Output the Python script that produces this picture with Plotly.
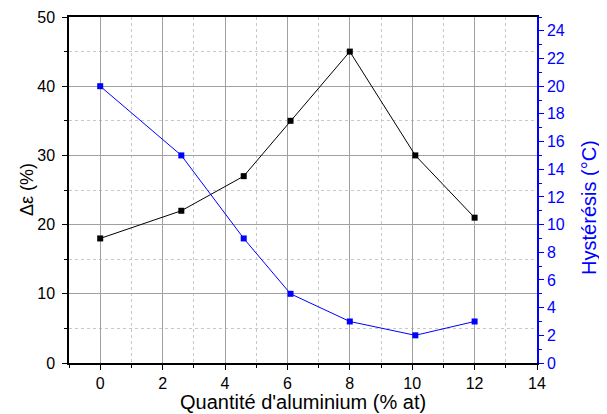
import plotly.graph_objects as go

x_al = [0, 2.6, 4.6, 6.1, 8, 10.1, 12]
delta_eps = [18, 22, 27, 35, 45, 30, 21]
hysteresis = [20, 15, 9, 5, 3, 2, 3]

FONT = "Liberation Sans, Arial, sans-serif"
BLUE = "#0000ff"

fig = go.Figure()
fig.add_trace(go.Scatter(x=x_al, y=delta_eps, mode="lines+markers",
                         line=dict(color="black", width=1),
                         marker=dict(symbol="square", size=6, color="black"),
                         showlegend=False, yaxis="y"))
fig.add_trace(go.Scatter(x=x_al, y=hysteresis, mode="lines+markers",
                         line=dict(color=BLUE, width=1),
                         marker=dict(symbol="square", size=6, color=BLUE),
                         showlegend=False, yaxis="y2"))

fig.update_layout(
    width=599, height=406,
    margin=dict(l=61, r=70, t=9, b=51),
    paper_bgcolor="white", plot_bgcolor="white",
    font=dict(family=FONT, size=16, color="black"),
    xaxis=dict(
        range=[-1, 14], tick0=0, dtick=2, automargin=False,
        showline=True, linecolor="black", linewidth=1.5, mirror=True,
        ticks="outside", ticklen=5, tickwidth=1, tickcolor="black",
        showgrid=True, gridcolor="#a0a0a0", gridwidth=1,
        zeroline=False,
        minor=dict(dtick=1, ticks="outside", ticklen=3, tickcolor="black",
                   showgrid=True, gridcolor="#c8c8c8", griddash="dot"),
        tickfont=dict(size=16),
    ),
    yaxis=dict(
        range=[0, 50], tick0=0, dtick=10, automargin=False,
        showline=True, linecolor="black", linewidth=1.5,
        ticks="outside", ticklen=5, tickwidth=1, tickcolor="black",
        ticklabelstandoff=4,
        showgrid=True, gridcolor="#a0a0a0", gridwidth=1,
        zeroline=False,
        minor=dict(dtick=5, ticks="outside", ticklen=3, tickcolor="black",
                   showgrid=True, gridcolor="#c8c8c8", griddash="dot"),
        tickfont=dict(size=16),
    ),
    yaxis2=dict(
        range=[0, 25], tick0=0, dtick=2, automargin=False,
        overlaying="y", side="right",
        showline=True, linecolor=BLUE, linewidth=1.5,
        ticks="outside", ticklen=5, tickwidth=1, tickcolor=BLUE,
        showgrid=False, zeroline=False,
        minor=dict(dtick=1, ticks="outside", ticklen=3, tickcolor=BLUE),
        tickfont=dict(size=16, color=BLUE),
    ),
    annotations=[
        dict(text="Quantité d'aluminium (% at)", xref="paper", yref="paper",
             x=0.5, y=-0.113, xanchor="center", yanchor="middle",
             showarrow=False, font=dict(size=20, color="black")),
        dict(text="Δε (%)", xref="paper", yref="paper",
             x=-0.0897, y=0.5, xanchor="center", yanchor="middle", textangle=-90,
             showarrow=False, font=dict(size=18, color="black")),
        dict(text="Hystérésis (°C)", xref="paper", yref="paper",
             x=1.111, y=0.451, xanchor="center", yanchor="middle", textangle=-90,
             showarrow=False, font=dict(size=20, color=BLUE)),
    ],
)

fig.write_html("out.html")
